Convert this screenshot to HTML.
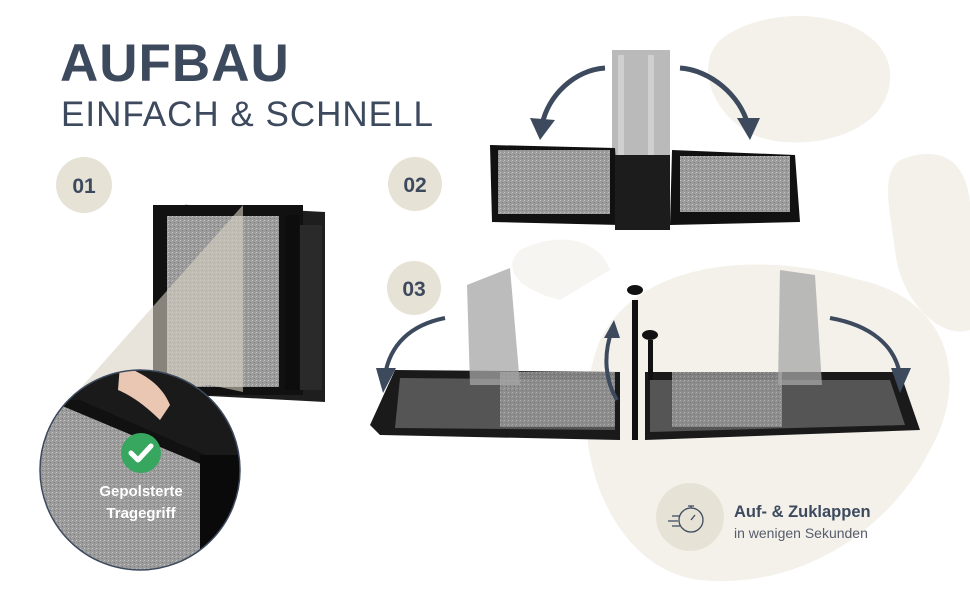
<!DOCTYPE html>
<html><head><meta charset="utf-8"><style>
html,body{margin:0;padding:0;background:#fff;}
body{width:970px;height:600px;overflow:hidden;position:relative;font-family:"Liberation Sans",sans-serif;}
svg{position:absolute;left:0;top:0;}
</style></head><body>
<svg width="970" height="600" viewBox="0 0 970 600" xmlns="http://www.w3.org/2000/svg">
<defs>
<pattern id="carpet" width="4" height="4" patternUnits="userSpaceOnUse">
<rect width="4" height="4" fill="#9b9b9b"/><rect x="0" y="0" width="1" height="1" fill="#c2c2c2"/><rect x="2" y="2" width="1" height="1" fill="#777"/><rect x="3" y="1" width="1" height="1" fill="#b0b0b0"/>
</pattern>
<clipPath id="zoomc"><circle cx="140" cy="470" r="100"/></clipPath>
</defs>
<g fill="#f4f1eb">
<path d="M720 40 C770 0 880 10 890 70 C895 130 820 150 770 140 C720 130 690 70 720 40Z"/>
<path d="M600 340 C640 260 760 250 860 280 C950 300 970 380 930 450 C890 530 800 590 700 580 C610 570 560 440 600 340Z"/>
<path d="M900 160 C950 140 975 170 970 230 L970 330 C940 340 900 300 895 250 C890 210 880 175 900 160Z"/>
<path d="M520 250 C560 230 600 240 610 270 L560 300 C520 290 500 270 520 250Z" opacity="0.7"/>
</g>
<text x="60" y="81" font-size="53" font-weight="700" fill="#3d4a5e" letter-spacing="1">AUFBAU</text>
<text x="61" y="126" font-size="35" fill="#3d4a5e" letter-spacing="1">EINFACH &amp; SCHNELL</text>
<g fill="#e7e2d6"><circle cx="84" cy="185" r="28"/><circle cx="415" cy="184" r="27"/><circle cx="414" cy="288" r="27"/></g>
<g font-size="21" font-weight="700" fill="#3d4a5e" text-anchor="middle">
<text x="84" y="193">01</text><text x="415" y="192">02</text><text x="414" y="296">03</text></g>
<rect x="185" y="195" width="140" height="190" fill="#1e1e1e" transform="skewY(3)"/>
<rect x="153" y="205" width="150" height="190" fill="#111"/>
<rect x="167" y="216" width="112" height="171" fill="url(#carpet)"/>
<rect x="300" y="225" width="22" height="165" fill="#2a2a2a"/>
<rect x="285" y="215" width="14" height="175" fill="#0d0d0d"/>
<polygon points="243,205 243,392 210,385 70,400" fill="#d8d2c3" opacity="0.6"/>
<g clip-path="url(#zoomc)">
<rect x="30" y="360" width="220" height="220" fill="#1a1a1a"/>
<polygon points="30,400 80,400 240,470 240,580 30,580" fill="#111"/>
<polygon points="30,418 60,405 215,470 210,580 30,580" fill="url(#carpet)"/>
<path d="M120 365 C135 370 160 380 170 405 L160 420 C145 405 130 395 118 390Z" fill="#e9c7b3"/>
<rect x="200" y="455" width="40" height="130" fill="#0a0a0a"/>
</g>
<circle cx="140" cy="470" r="100" fill="none" stroke="#3d4a5e" stroke-width="1.5"/>
<circle cx="141" cy="453" r="20" fill="#37a760"/>
<path d="M131 453 L138 460 L151 446" stroke="#fff" stroke-width="5" fill="none" stroke-linecap="round" stroke-linejoin="round"/>
<g font-size="15" font-weight="700" fill="#fff" text-anchor="middle">
<text x="141" y="496">Gepolsterte</text><text x="141" y="518">Tragegriff</text></g>
<rect x="612" y="50" width="58" height="112" fill="#a9a9a9" opacity="0.8"/>
<rect x="618" y="55" width="6" height="105" fill="#d0d0d0"/>
<rect x="648" y="55" width="6" height="105" fill="#d0d0d0"/>
<polygon points="490,145 615,148 620,225 492,222" fill="#111"/>
<rect x="498" y="150" width="112" height="64" fill="url(#carpet)"/>
<polygon points="672,150 795,155 800,222 670,225" fill="#111"/>
<rect x="680" y="156" width="110" height="56" fill="url(#carpet)"/>
<rect x="615" y="155" width="55" height="75" fill="#1c1c1c"/>
<g stroke="#3d4a5e" stroke-width="5" fill="none"><path d="M605 68 C575 70 548 95 542 125"/><path d="M680 68 C710 70 740 95 748 125"/></g>
<g fill="#3d4a5e"><polygon points="530,118 555,120 540,140"/><polygon points="737,118 760,118 750,140"/></g>
<polygon points="370,425 395,370 620,372 620,440 380,435" fill="#1a1a1a"/>
<polygon points="400,378 615,380 615,430 395,428" fill="#555"/>
<polygon points="645,372 900,372 920,430 645,440" fill="#1a1a1a"/>
<polygon points="650,380 890,380 905,425 650,432" fill="#555"/>
<rect x="500" y="372" width="115" height="55" fill="url(#carpet)" opacity="0.8"/>
<rect x="672" y="372" width="110" height="55" fill="url(#carpet)" opacity="0.8"/>
<polygon points="467,285 510,268 520,385 470,385" fill="#a5a5a5" opacity="0.75"/>
<polygon points="780,270 815,275 822,385 778,385" fill="#a5a5a5" opacity="0.75"/>
<rect x="632" y="300" width="6" height="140" fill="#111"/>
<ellipse cx="635" cy="290" rx="8" ry="5" fill="#111"/>
<ellipse cx="650" cy="335" rx="8" ry="5" fill="#111"/>
<rect x="648" y="340" width="5" height="40" fill="#111"/>
<g stroke="#3d4a5e" stroke-width="4" fill="none"><path d="M445 318 C410 325 390 345 385 375"/><path d="M617 400 C605 380 603 355 612 330"/><path d="M830 318 C870 325 895 345 900 375"/></g>
<g fill="#3d4a5e"><polygon points="376,368 396,368 383,393"/><polygon points="604,338 620,338 614,320"/><polygon points="891,368 911,368 900,393"/></g>
<circle cx="690" cy="517" r="34" fill="#e7e2d6"/>
<g stroke="#3d4a5e" stroke-width="1.3" fill="none"><circle cx="691" cy="520" r="12"/><path d="M688 506 h6 M691 506 v2 M672 516 h8 M668 521 h10 M672 526 h8 M691 520 l4 -5"/></g>
<text x="734" y="517" font-size="16.5" font-weight="700" fill="#3d4a5e">Auf- &amp; Zuklappen</text>
<text x="734" y="538" font-size="14" fill="#555d6b">in wenigen Sekunden</text>
</svg>
</body></html>
